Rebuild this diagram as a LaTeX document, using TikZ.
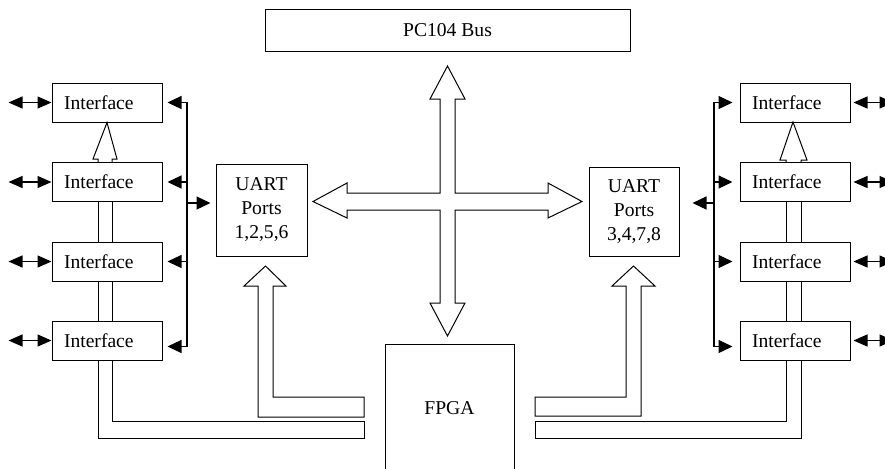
\documentclass[tikz,border=0pt]{standalone}
\usepackage{fontspec}
\setmainfont{Liberation Serif}
\usetikzlibrary{arrows.meta}
\tikzset{
  blk/.style={draw, line width=0.5pt, inner sep=0pt, align=center},
  iface/.style={blk, minimum width=55pt, minimum height=19.5pt, text width=43pt, align=left, inner xsep=6pt},
  sig/.style={line width=0.6pt, -{Triangle[length=7pt,width=6.5pt]}},
  dblarr/.style={line width=0.6pt, {Triangle[length=7pt,width=6pt]}-{Triangle[length=7pt,width=6pt]}},
  hollow/.style={line width=0.5pt}
}
\begin{document}
\begin{tikzpicture}[x=0.5pt, y=-0.5pt, font=\fontsize{9.8}{12}\selectfont]
        \useasboundingbox (0,0) rectangle (885,468);
        %% main blocks
        \node[blk, minimum width=182.5pt, minimum height=21pt] (bus) at (447.5,30.5) {PC104 Bus};
        \node[blk, minimum width=45.5pt, minimum height=46pt] (uartL) at (261.5,210) {UART\\Ports\\1,2,5,6};
        \node[blk, minimum width=45pt, minimum height=44.5pt] (uartR) at (634,211.5) {UART\\Ports\\3,4,7,8};
        \node[blk, minimum width=64.5pt, minimum height=64pt] (fpga) at (449.5,408) {FPGA};
        %% interface blocks
        \foreach \i/\y in {1/102.5,2/182,3/261.5,4/340.5} {
            \node[iface] (il\i) at (107,\y) {Interface};
            \node[iface] (ir\i) at (795,\y) {Interface};
            \draw[dblarr] (il\i.west) -- ++(-43,0);
            \draw[dblarr, shorten <=1.5pt] (ir\i.east) -- ++(43,0);
        }
        %% left serial lines
        \coordinate (hubL) at (187,203);
        \foreach \i in {1,2,3} \draw[sig, shorten >=2.5pt] (hubL) |- (il\i.east);
        \draw[sig, shorten >=2.5pt] (hubL) |- ([yshift=-3pt]il4.east);
        \draw[sig, shorten >=2.5pt] (hubL) -- (hubL -| uartL.west);
        %% right serial lines
        \coordinate (hubR) at (714,203);
        \foreach \i in {1,2,3} \draw[sig, shorten >=3.5pt] (hubR) |- (ir\i.west);
        \draw[sig, shorten >=3.5pt] (hubR) |- ([yshift=-3pt]ir4.west);
        \draw[sig, shorten >=6.5pt] (hubR) -- (hubR -| uartR.east);
        %% cross shaped bus arrow
        \draw[hollow] (447.5,66) -- (465,99) -- (455,99) -- (455,193) -- (548,193) -- (548,183)
            -- (582,201.5) -- (548,218) -- (548,210) -- (455,210) -- (455,303) -- (465,303)
            -- (447.5,336) -- (430,303) -- (440,303) -- (440,210) -- (347,210) -- (347,218)
            -- (313,201.5) -- (347,183) -- (347,193) -- (440,193) -- (440,99) -- (430,99) -- cycle;
        %% left interface bus
        \draw[hollow] (98,162) -- (98,159) -- (93,159) -- (il1.south) -- (117,159) -- (112,159) -- (112,162);
        \foreach \a/\b in {202/242,281/321} {
            \draw[hollow] (98,\a) -- (98,\b);
            \draw[hollow] (112,\a) -- (112,\b);
        }
        \draw[hollow] (98,360) -- (98,438) -- (364,438) -- (364,421) -- (112,421) -- (112,360);
        %% left uart bus
        \draw[hollow] (258,417) -- (364,417) -- (364,397) -- (273,397) -- (273,286) -- (286,286)
            -- (265.5,266) -- (244,286) -- (258,286) -- cycle;
        %% right uart bus
        \draw[hollow] (535,397) -- (626,397) -- (626,286) -- (612,286) -- (633.5,266) -- (655,286)
            -- (641,286) -- (641,416) -- (535,416) -- cycle;
        %% right interface bus
        \draw[hollow] (786,162) -- (786,160) -- (780,160) -- (793,122) -- (807,160) -- (801,160) -- (801,162);
        \foreach \a/\b in {202/242,281/321} {
            \draw[hollow] (786,\a) -- (786,\b);
            \draw[hollow] (801,\a) -- (801,\b);
        }
        \draw[hollow] (786,360) -- (786,421) -- (535,421) -- (535,438) -- (801,438) -- (801,360);
    \end{tikzpicture}
\end{document}
